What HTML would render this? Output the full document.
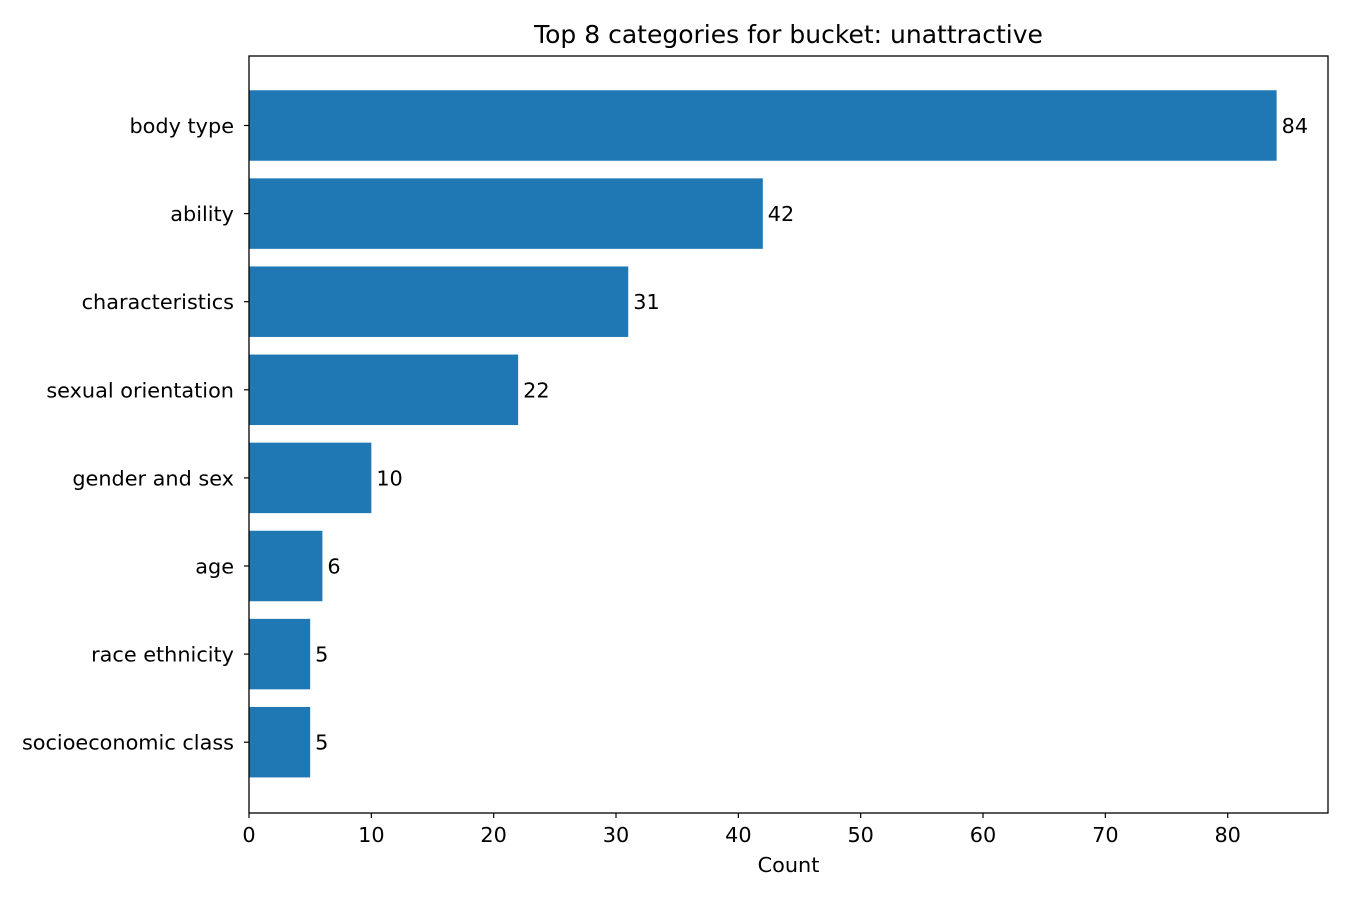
<!DOCTYPE html>
<html><head><meta charset="utf-8"><style>
body{margin:0;background:#fff;}
svg text{font-family:"DejaVu Sans","Liberation Sans",sans-serif;fill:#000;}
</style></head><body>
<svg id="chart" width="1350" height="900">
<text x="788.5" y="43" font-size="25" text-anchor="middle">Top 8 categories for bucket: unattractive</text>
<g id="bars"></g>
<g id="xticks"></g>
<g id="yticks"></g>
<rect x="249" y="56" width="1079" height="757" fill="none" stroke="#000" stroke-width="1.3"/>
<text x="788.5" y="872" font-size="20.8" text-anchor="middle">Count</text>
</svg>
<script>
const categories=["body type","ability","characteristics","sexual orientation","gender and sex","age","race ethnicity","socioeconomic class"];
const values=[84,42,31,22,10,6,5,5];
const xTickValues=[0,10,20,30,40,50,60,70,80];
const x0=249,pxPer=(1328-249)/88.2;
const xs=v=>x0+v*pxPer;
const band=88.1,top0=125.5;
const yc=i=>top0+i*band;
const ns="http://www.w3.org/2000/svg";
const mk=(t,a)=>{const e=document.createElementNS(ns,t);for(const k in a)e.setAttribute(k,a[k]);return e;};
const gb=document.getElementById('bars'),gx=document.getElementById('xticks'),gy=document.getElementById('yticks');
categories.forEach((c,i)=>{
  const h=band*0.8;
  const r=mk('rect',{x:x0,y:yc(i)-h/2,width:xs(values[i])-x0,height:h,fill:'#1f77b4'});
  
  
  gb.appendChild(r);
  const t=mk('text',{x:xs(values[i])+5,y:yc(i)+7.5,'font-size':20.8});
  t.textContent=values[i];
  
  
  gb.appendChild(t);
  const tk=mk('line',{x1:x0-5,x2:x0,y1:yc(i),y2:yc(i),stroke:'#000','stroke-width':1.2});
  
  
  gy.appendChild(tk);
  const l=mk('text',{x:x0-15,y:yc(i)+7.5,'font-size':20.8,'text-anchor':'end'});
  l.textContent=c;
  
  
  gy.appendChild(l);
});
xTickValues.forEach(v=>{
  const tk=mk('line',{x1:xs(v),x2:xs(v),y1:813,y2:818,stroke:'#000','stroke-width':1.2});
  
  
  gx.appendChild(tk);
  const l=mk('text',{x:xs(v),y:842,'font-size':20.8,'text-anchor':'middle'});
  l.textContent=v;
  
  
  gx.appendChild(l);
});
</script>
</body></html>
